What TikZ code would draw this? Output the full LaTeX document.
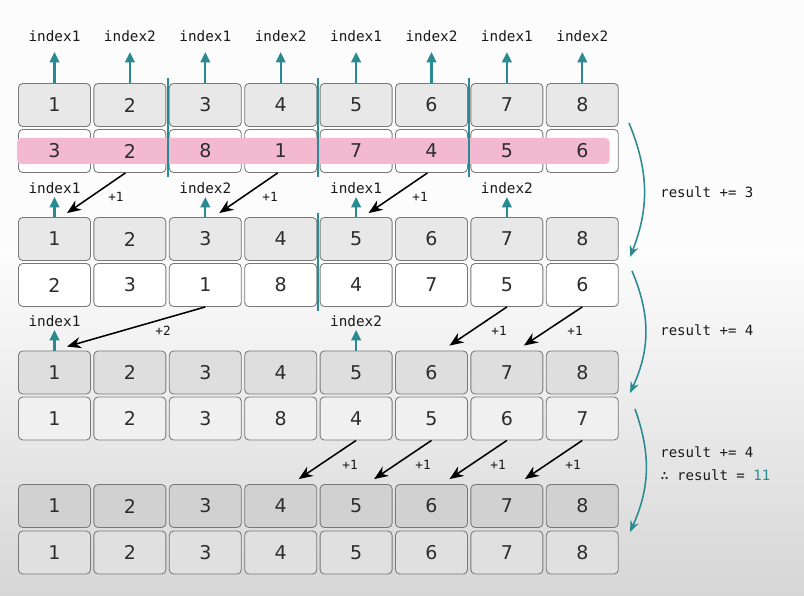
\documentclass[tikz,border=0pt]{standalone}
\usepackage{fontspec}
\setmainfont{DejaVu Sans}
\setmonofont{DejaVu Sans Mono}
\usetikzlibrary{calc,positioning,arrows.meta}
\definecolor{idxteal}{RGB}{42,138,145}
\definecolor{cellline}{RGB}{120,120,120}
\definecolor{celltext}{RGB}{45,45,45}
\definecolor{bandpink}{RGB}{242,185,209}

\tikzset{
  cell/.style={draw=cellline,line width=0.6pt,rounded corners=3pt,minimum width=1.8cm,minimum height=1.075cm,inner sep=0pt,text=celltext,font=\fontsize{13.5}{15}\selectfont},
  celltxt/.style={inner sep=0pt,text=celltext,font=\fontsize{13.5}{15}\selectfont},
  idxlbl/.style={inner sep=1pt,font=\ttfamily\fontsize{10.2}{12}\selectfont,text=black!90},
  steplbl/.style={inner sep=0pt,font=\ttfamily\fontsize{9}{10}\selectfont,text=black!90},
  reslbl/.style={anchor=west,inner sep=0pt,font=\ttfamily\fontsize{10}{12}\selectfont,text=black!90},
  idxarrow/.style={draw=idxteal,line width=1.6pt,-{Triangle[length=2.6mm,width=2.4mm]}},
  moveline/.style={draw=black,line width=1.1pt,-{Stealth[length=3.5mm,width=2.8mm]}},
  sepline/.style={draw=idxteal,line width=1.3pt},
  passarrow/.style={draw=idxteal,line width=1.1pt,-{Stealth[length=2.8mm,width=2.2mm]}},
}

\begin{document}
\begin{tikzpicture}[x=0.025cm,y=-0.025cm]
  \useasboundingbox (0,0) rectangle (804,596);
  % background, greying towards the bottom
  \fill[white!98!gray] (0,0) rectangle (804,250);
  \shade[top color=white!98!gray,bottom color=gray!32] (0,250) rectangle (804,596);

  % rows of cells
  \foreach \v [count=\i] in {1,...,8}
    \node[cell,fill=gray!18] (a\i) at ({54.5+75.4*(\i-1)},105) {\v};
  \foreach \v [count=\i] in {3,2,8,1,7,4,5,6}
    \node[cell,fill=white] (b\i) at ({54.5+75.4*(\i-1)},151) {};
  \fill[bandpink,rounded corners=3pt] ($(b1.west)+(-1,-13)$) rectangle ($(b8.east)+(-9,13)$);
  \foreach \v [count=\i] in {3,2,8,1,7,4,5,6}
    \node[celltxt] (bv\i) at (b\i) {\v};
  \foreach \v [count=\i] in {1,...,8}
    \node[cell,fill=gray!18] (c\i) at ({54.5+75.4*(\i-1)},239) {\v};
  \foreach \v [count=\i] in {2,3,1,8,4,7,5,6}
    \node[cell,fill=white] (d\i) at ({54.5+75.4*(\i-1)},285) {\v};
  \foreach \v [count=\i] in {1,...,8}
    \node[cell,fill=gray!26] (e\i) at ({54.5+75.4*(\i-1)},372.5) {\v};
  \foreach \v [count=\i] in {1,2,3,8,4,5,6,7}
    \node[cell,fill=gray!12] (f\i) at ({54.5+75.4*(\i-1)},418.5) {\v};
  \foreach \v [count=\i] in {1,...,8}
    \node[cell,fill=gray!36] (g\i) at ({54.5+75.4*(\i-1)},506) {\v};
  \foreach \v [count=\i] in {1,...,8}
    \node[cell,fill=gray!24] (h\i) at ({54.5+75.4*(\i-1)},552.5) {\v};

  % run separators
  \foreach \l/\r in {2/3,4/5,6/7}
    \draw[sepline] ($(a\l.north east)!0.5!(a\r.north west)+(0,-5)$) -- ($(b\l.south east)!0.5!(b\r.south west)+(0,4)$);
  \draw[sepline] ($(c4.north east)!0.5!(c5.north west)+(0,-4)$) -- ($(d4.south east)!0.5!(d5.south west)+(0,4)$);

  % index pointers
  \foreach \i/\t in {1/index1,2/index2,3/index1,4/index2,5/index1,6/index2,7/index1,8/index2} {
    \node[idxlbl,above=1.0cm of a\i] (ta\i) {\t};
    \draw[idxarrow,shorten >=6.4pt] (a\i.north) -- (ta\i.south);
  }
  \foreach \i/\t in {1/index1,3/index2,5/index1,7/index2} {
    \node[idxlbl,above=0.55cm of c\i] (tc\i) {\t};
    \draw[idxarrow,shorten >=1.4pt] (c\i.north) -- (tc\i.south);
  }
  \foreach \i/\t in {1/index1,5/index2} {
    \node[idxlbl,above=0.55cm of e\i] (te\i) {\t};
    \draw[idxarrow,shorten >=1pt] (e\i.north) -- (te\i.south);
  }

  % moves
  \draw[moveline] ($(b2.south)+(-4.5,0)$) -- ($(c1.north)+(12.5,-4)$);
  \draw[moveline] ($(b4.south)+(-3,0)$) -- ($(c3.north)+(14,-4)$);
  \draw[moveline] ($(b6.south)+(-4,0)$) -- ($(c5.north)+(12.5,-4)$);
  \node[steplbl] (s1) at (116,197) {+1};
  \node[steplbl] (s2) at (270,197) {+1};
  \node[steplbl] (s3) at (420,197) {+1};

  \draw[moveline] (d3.south) -- ($(e1.north)+(12.5,-4)$);
  \draw[moveline] (d7.south) -- ($(e6.north)+(18,-5)$);
  \draw[moveline] (d8.south) -- ($(e7.north)+(17,-5)$);
  \node[steplbl] (s4) at (163,331) {+2};
  \node[steplbl] (s5) at (499,331) {+1};
  \node[steplbl] (s6) at (575,331) {+1};

  \foreach \s/\t/\x in {5/4/350,6/5/423,7/6/498,8/7/573} {
    \draw[moveline] (f\s.south) -- ($(g\t.north)+(18,-5)$);
    \node[steplbl] (sf\s) at (\x,465) {+1};
  }

  % passes
  \coordinate (pass1a) at (629,123);
  \coordinate (pass1b) at (630,257);
  \coordinate (pass2a) at (632,271);
  \coordinate (pass2b) at (630,393);
  \coordinate (pass3a) at (635,409);
  \coordinate (pass3b) at (630,532);
  \draw[passarrow] (pass1a) to[bend left=22] (pass1b);
  \draw[passarrow] (pass2a) to[bend left=24] (pass2b);
  \draw[passarrow] (pass3a) to[bend left=22] (pass3b);
  \node[reslbl] (res1) at (660,192) {result += 3};
  \node[reslbl] (res2) at (660,330) {result += 4};
  \node[reslbl] (res3) at (660,452) {result += 4};
  \node[reslbl] (res4) at (660,475) {∴ result = \textcolor{idxteal}{11}};
\end{tikzpicture}
\end{document}
